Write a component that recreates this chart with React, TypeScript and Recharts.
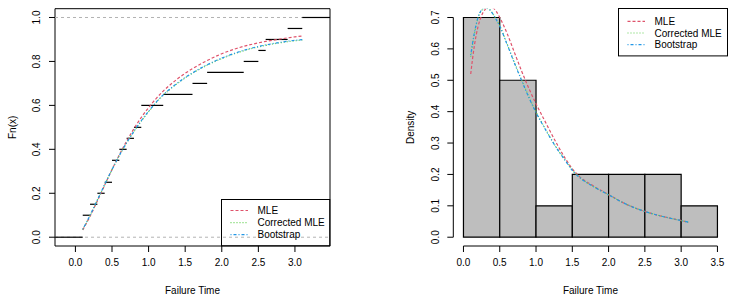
import React from 'react';
import {
  ComposedChart,
  Label,
  Legend,
  Line,
  ReferenceArea,
  ReferenceLine,
  XAxis,
  YAxis,
} from 'recharts';

// observed failure times (20 units)
const failureTimes = [
  0.1, 0.1, 0.2, 0.3, 0.4, 0.5, 0.5, 0.6, 0.7, 0.8, 0.9, 0.9, 1.2, 1.6, 1.8, 2.3, 2.5, 2.6, 2.9, 3.1,
];

// histogram
const binEdges = [0, 0.5, 1, 1.5, 2, 2.5, 3, 3.5];
const binDensity = [0.7, 0.5, 0.1, 0.2, 0.2, 0.2, 0.1];

// fitted CDFs
const cdfX = [0.1, 0.2, 0.3, 0.4, 0.5, 0.6, 0.7, 0.8, 0.9, 1.0, 1.1, 1.2, 1.3, 1.4, 1.5, 1.6, 1.8, 2.0, 2.2, 2.4, 2.6, 2.8, 3.0, 3.1];
const cdfMle = [0.033, 0.095, 0.165, 0.237, 0.308, 0.375, 0.437, 0.494, 0.545, 0.59, 0.63, 0.665, 0.695, 0.722, 0.746, 0.767, 0.804, 0.835, 0.859, 0.877, 0.891, 0.902, 0.912, 0.916];
const cdfCorrected = [0.035, 0.099, 0.169, 0.239, 0.307, 0.371, 0.429, 0.481, 0.528, 0.571, 0.611, 0.646, 0.675, 0.701, 0.725, 0.746, 0.783, 0.813, 0.838, 0.858, 0.873, 0.885, 0.894, 0.897];
const cdfBoot = [0.036, 0.1, 0.17, 0.24, 0.308, 0.372, 0.43, 0.482, 0.53, 0.573, 0.613, 0.648, 0.677, 0.703, 0.727, 0.748, 0.785, 0.815, 0.84, 0.86, 0.875, 0.887, 0.896, 0.899];

// fitted densities
const pdfX = [0.1, 0.15, 0.2, 0.25, 0.3, 0.35, 0.4, 0.45, 0.5, 0.6, 0.7, 0.8, 0.9, 1.0, 1.1, 1.2, 1.3, 1.4, 1.5, 1.6, 1.8, 2.0, 2.2, 2.4, 2.6, 2.8, 3.0, 3.1];
const pdfMle = [0.52, 0.61, 0.67, 0.706, 0.726, 0.733, 0.731, 0.72, 0.7, 0.65, 0.59, 0.53, 0.475, 0.425, 0.38, 0.335, 0.292, 0.252, 0.218, 0.193, 0.162, 0.136, 0.11, 0.09, 0.075, 0.063, 0.053, 0.047];
const pdfCorrected = [0.575, 0.647, 0.698, 0.722, 0.73, 0.727, 0.714, 0.695, 0.674, 0.617, 0.558, 0.502, 0.448, 0.399, 0.357, 0.316, 0.279, 0.246, 0.214, 0.191, 0.16, 0.135, 0.11, 0.09, 0.075, 0.063, 0.053, 0.048];
const pdfBoot = [0.58, 0.65, 0.7, 0.724, 0.731, 0.727, 0.713, 0.694, 0.672, 0.615, 0.556, 0.5, 0.446, 0.397, 0.355, 0.315, 0.278, 0.245, 0.213, 0.19, 0.16, 0.135, 0.11, 0.09, 0.075, 0.063, 0.053, 0.048];

const leftXTicks = [0, 0.5, 1, 1.5, 2, 2.5, 3];
const leftYTicks = [0, 0.2, 0.4, 0.6, 0.8, 1];
const rightXTicks = [0, 0.5, 1, 1.5, 2, 2.5, 3, 3.5];
const rightYTicks = [0, 0.1, 0.2, 0.3, 0.4, 0.5, 0.6, 0.7];

const LEFT_X: [number, number] = [-0.279, 3.479];
const LEFT_Y: [number, number] = [-0.04, 1.04];
const RIGHT_X: [number, number] = [-0.14, 3.64];
const RIGHT_Y: [number, number] = [-0.028, 0.728];

const FONT = '"Liberation Sans", Arial, Helvetica, sans-serif';

const series = [
  { name: 'MLE', color: '#DF536B', dash: '3 2', cdf: cdfMle, pdf: pdfMle },
  { name: 'Corrected MLE', color: '#61D04F', dash: '1 2', cdf: cdfCorrected, pdf: pdfCorrected },
  { name: 'Bootstrap', color: '#2297E6', dash: '1 2 3 2', cdf: cdfBoot, pdf: pdfBoot },
];

const toPoints = (xs: number[], ys: number[]) => xs.map((x, i) => ({ x, y: ys[i] }));

// empirical cdf steps
const knots = Array.from(new Set(failureTimes)).sort((a, b) => a - b);
const steps = [
  { from: LEFT_X[0], to: knots[0], level: 0 },
  ...knots.map((k, i) => ({
    from: k,
    to: i < knots.length - 1 ? knots[i + 1] : LEFT_X[1],
    level: failureTimes.filter((t) => t <= k).length / failureTimes.length,
  })),
];

function RotatedTick(props: any) {
  const { x, y, payload } = props;
  return (
    <text
      transform={`translate(${x - 6.7},${y}) rotate(-90)`}
      textAnchor="middle"
      fontSize={10}
      fill="#000"
      fontFamily={FONT}
    >
      {Number(payload.value).toFixed(1)}
    </text>
  );
}

function LegendBox({ width, height, rows }: { width: number; height: number; rows: number[] }) {
  return (
    <svg width={width} height={height} style={{ display: 'block', overflow: 'visible' }}>
      <rect x={0.5} y={0.5} width={width - 1} height={height - 1} fill="none" stroke="#000" strokeWidth={1} />
      {series.map((s, i) => (
        <g key={s.name}>
          <line x1={9.5} x2={27} y1={rows[i]} y2={rows[i]} stroke={s.color} strokeWidth={1.2} strokeDasharray={s.dash} />
          <text x={36.5} y={rows[i] + 3.6} fontSize={10} fill="#000" fontFamily={FONT}>
            {s.name}
          </text>
        </g>
      ))}
    </svg>
  );
}

const tickFmt = (v: number) => v.toFixed(1);

function EcdfPanel() {
  return (
    <ComposedChart width={370} height={299} margin={{ top: 8.7, right: 40, bottom: 0, left: 0 }}>
      <XAxis
        dataKey="x"
        type="number"
        domain={LEFT_X}
        ticks={leftXTicks}
        interval={0}
        allowDataOverflow
        axisLine={false}
        tickLine={{ stroke: '#000' }}
        tickSize={6}
        tickMargin={7}
        tick={{ fill: '#000', fontSize: 10, fontFamily: FONT }}
        tickFormatter={tickFmt}
        height={53}
      >
        <Label value="Failure Time" position="insideBottom" offset={5.5} fill="#000" fontSize={10} fontFamily={FONT} />
      </XAxis>
      <YAxis
        type="number"
        domain={LEFT_Y}
        ticks={leftYTicks}
        interval={0}
        allowDataOverflow
        axisLine={false}
        tickLine={{ stroke: '#000' }}
        tickSize={6}
        tickMargin={2}
        tick={<RotatedTick />}
        width={55}
      >
        <Label
          value="Fn(x)"
          position="insideLeft"
          angle={-90}
          offset={12.3}
          fill="#000"
          fontSize={10}
          fontFamily={FONT}
          style={{ textAnchor: 'middle' }}
        />
      </YAxis>
      <ReferenceArea x1={LEFT_X[0]} x2={LEFT_X[1]} y1={LEFT_Y[0]} y2={LEFT_Y[1]} fill="none" stroke="#000" strokeWidth={1} ifOverflow="visible" />
      <ReferenceLine y={0} stroke="#B3B3B3" strokeDasharray="3 3" />
      <ReferenceLine y={1} stroke="#B3B3B3" strokeDasharray="3 3" />
      {steps.map((s, i) => (
        <ReferenceLine
          key={`step-${i}`}
          segment={[
            { x: s.from, y: s.level },
            { x: s.to, y: s.level },
          ]}
          stroke="#000"
          strokeWidth={1.2}
          ifOverflow="visible"
        />
      ))}
      {series.map((s) => (
        <Line
          key={s.name}
          data={toPoints(cdfX, s.cdf)}
          dataKey="y"
          type="monotone"
          stroke={s.color}
          strokeWidth={1.2}
          strokeDasharray={s.dash}
          dot={false}
          activeDot={false}
          isAnimationActive={false}
        />
      ))}
      <Legend
        layout="horizontal"
        verticalAlign="middle"
        align="center"
        wrapperStyle={{ left: 220.7, top: 198.7, width: 109.3, height: 47.3 }}
        content={() => <LegendBox width={109.3} height={47.3} rows={[11.5, 23.6, 35.6]} />}
      />
    </ComposedChart>
  );
}

function DensityPanel() {
  return (
    <ComposedChart width={370} height={299} margin={{ top: 8.7, right: 12.4, bottom: 0, left: 0 }}>
      <XAxis
        dataKey="x"
        type="number"
        domain={RIGHT_X}
        ticks={rightXTicks}
        interval={0}
        allowDataOverflow
        axisLine={false}
        tickLine={{ stroke: '#000' }}
        tickSize={6}
        tickMargin={7}
        tick={{ fill: '#000', fontSize: 10, fontFamily: FONT }}
        tickFormatter={tickFmt}
        height={53}
      >
        <Label value="Failure Time" position="insideBottom" offset={5.5} fill="#000" fontSize={10} fontFamily={FONT} />
      </XAxis>
      <YAxis
        type="number"
        domain={RIGHT_Y}
        ticks={rightYTicks}
        interval={0}
        allowDataOverflow
        axisLine={false}
        tickLine={{ stroke: '#000' }}
        tickSize={6}
        tickMargin={2}
        tick={<RotatedTick />}
        width={83.3}
      >
        <Label
          value="Density"
          position="insideLeft"
          angle={-90}
          offset={40}
          fill="#000"
          fontSize={10}
          fontFamily={FONT}
          style={{ textAnchor: 'middle' }}
        />
      </YAxis>
      <ReferenceLine
        segment={[
          { x: RIGHT_X[0], y: rightYTicks[0] },
          { x: RIGHT_X[0], y: rightYTicks[rightYTicks.length - 1] },
        ]}
        stroke="#000"
        ifOverflow="visible"
      />
      <ReferenceLine
        segment={[
          { x: rightXTicks[0], y: RIGHT_Y[0] },
          { x: rightXTicks[rightXTicks.length - 1], y: RIGHT_Y[0] },
        ]}
        stroke="#000"
        ifOverflow="visible"
      />
      {binDensity.map((d, i) => (
        <ReferenceArea
          key={`bin-${i}`}
          x1={binEdges[i]}
          x2={binEdges[i + 1]}
          y1={0}
          y2={d}
          fill="#BEBEBE"
          fillOpacity={1}
          stroke="#000"
          strokeWidth={1.2}
          ifOverflow="visible"
        />
      ))}
      {series.map((s) => (
        <Line
          key={s.name}
          data={toPoints(pdfX, s.pdf)}
          dataKey="y"
          type="monotone"
          stroke={s.color}
          strokeWidth={1.2}
          strokeDasharray={s.dash}
          dot={false}
          activeDot={false}
          isAnimationActive={false}
        />
      ))}
      <Legend
        layout="horizontal"
        verticalAlign="middle"
        align="center"
        wrapperStyle={{ left: 248.3, top: 8.3, width: 110, height: 48.4 }}
        content={() => <LegendBox width={110} height={48.4} rows={[13.4, 25, 36.7]} />}
      />
    </ComposedChart>
  );
}

export default function App() {
  return (
    <div style={{ position: 'absolute', left: 0, top: 0, width: 740, height: 299, background: '#fff', fontFamily: FONT }}>
      <div style={{ position: 'absolute', left: 0, top: 0 }}>
        <EcdfPanel />
      </div>
      <div style={{ position: 'absolute', left: 370, top: 0 }}>
        <DensityPanel />
      </div>
    </div>
  );
}
